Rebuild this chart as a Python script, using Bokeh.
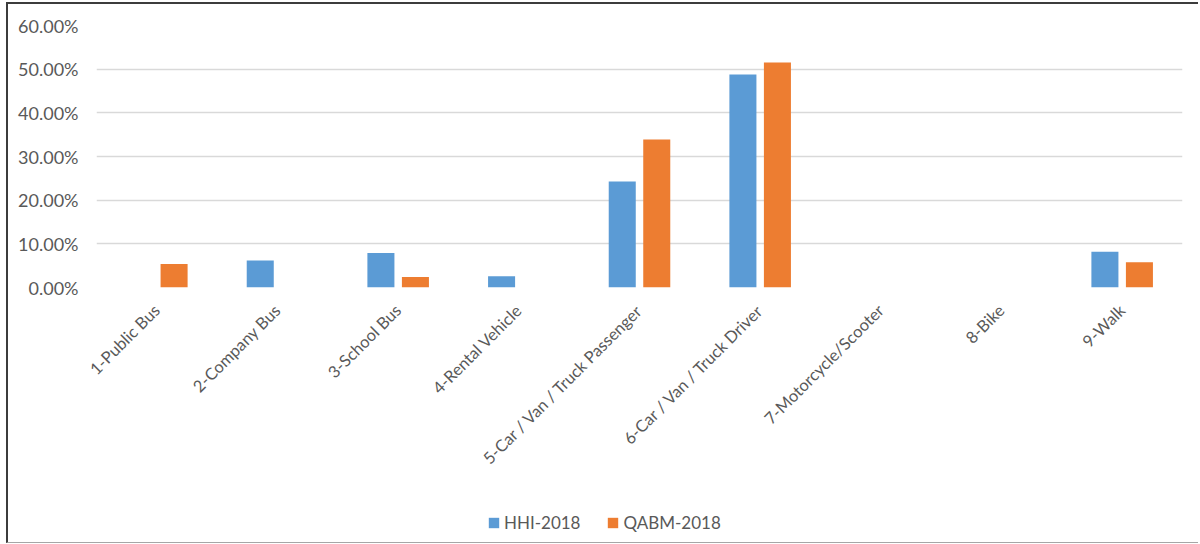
from bokeh.plotting import figure
from bokeh.models import (ColumnDataSource, FactorRange, Range1d, NumeralTickFormatter,
                          Legend, LegendItem, FixedTicker)
from bokeh.layouts import column
from bokeh.transform import dodge
from bokeh.embed import file_html
from bokeh.resources import INLINE
import math

categories = ["1-Public Bus", "2-Company Bus", "3-School Bus", "4-Rental Vehicle",
              "5-Car / Van / Truck Passenger", "6-Car / Van / Truck Driver",
              "7-Motorcycle/Scooter", "8-Bike", "9-Walk"]
hhi_2018 = [0.0, 0.062, 0.079, 0.026, 0.243, 0.488, 0.0, 0.0, 0.082]
qabm_2018 = [0.054, 0.0, 0.024, 0.0, 0.339, 0.515, 0.0, 0.0, 0.058]
y_ticks = [0.0, 0.1, 0.2, 0.3, 0.4, 0.5, 0.6]
series_names = ["HHI-2018", "QABM-2018"]

BLUE = "#5B9BD5"
ORANGE = "#ED7D31"
TEXT = "#595959"
FONT = "Lato"

src = ColumnDataSource(dict(cat=categories, hhi=hhi_2018, qabm=qabm_2018))

p = figure(x_range=FactorRange(*categories, range_padding=0), y_range=Range1d(0, 0.6),
           width=1190, height=496, output_backend="svg", toolbar_location=None,
           min_border_left=88, min_border_right=16, min_border_top=21, min_border_bottom=213)
p.outline_line_color = None

r1 = p.vbar(x=dodge("cat", -0.143, range=p.x_range), top="hhi", width=0.224,
            source=src, fill_color=BLUE, line_color=None)
r2 = p.vbar(x=dodge("cat", 0.143, range=p.x_range), top="qabm", width=0.224,
            source=src, fill_color=ORANGE, line_color=None)

p.yaxis.ticker = FixedTicker(ticks=y_ticks)
p.yaxis.formatter = NumeralTickFormatter(format="0.00%")
p.yaxis.axis_line_color = None
p.yaxis.major_tick_line_color = None
p.yaxis.minor_tick_line_color = None
p.yaxis.major_label_text_color = TEXT
p.yaxis.major_label_text_font = FONT
p.yaxis.major_label_text_font_size = "18px"
p.yaxis.major_label_standoff = 12

p.xaxis.axis_line_color = None
p.xaxis.major_tick_line_color = None
p.xaxis.major_label_orientation = math.pi / 4
p.xaxis.major_label_text_color = TEXT
p.xaxis.major_label_text_font = FONT
p.xaxis.major_label_text_font_size = "16.5px"
p.xaxis.major_label_standoff = 14

p.xgrid.grid_line_color = None
p.ygrid.grid_line_color = "#D9D9D9"
p.ygrid.grid_line_width = 1.5

# legend strip
lg = figure(x_range=FactorRange(*categories, range_padding=0), y_range=Range1d(5, 6),
            width=1190, height=42, output_backend="svg", toolbar_location=None,
            min_border=0, x_axis_location=None, y_axis_location=None)
lg.outline_line_color = None
lg.grid.grid_line_color = None
l1 = lg.vbar(x=dodge("cat", -0.143, range=lg.x_range), top="hhi", width=0.224,
             source=src, fill_color=BLUE, line_color=None)
l2 = lg.vbar(x=dodge("cat", 0.143, range=lg.x_range), top="qabm", width=0.224,
             source=src, fill_color=ORANGE, line_color=None)

legend = Legend(items=[LegendItem(label=series_names[0], renderers=[l1]),
                       LegendItem(label=series_names[1], renderers=[l2])],
                orientation="horizontal", location=(391, 9), padding=10, margin=0,
                label_text_color=TEXT, label_text_font=FONT, label_text_font_size="17px",
                glyph_width=13, glyph_height=13, spacing=26, label_standoff=4,
                border_line_color=None, background_fill_alpha=0)
lg.add_layout(legend, "center")

layout = column(p, lg, spacing=0)
layout.styles = {"margin-left": "6px", "margin-top": "2px",
                 "border-left": "2px solid #3c3c3c", "border-top": "2px solid #3c3c3c",
                 "border-bottom": "1px solid #a6a6a6"}

open("out.html", "w").write(file_html(layout, INLINE))
